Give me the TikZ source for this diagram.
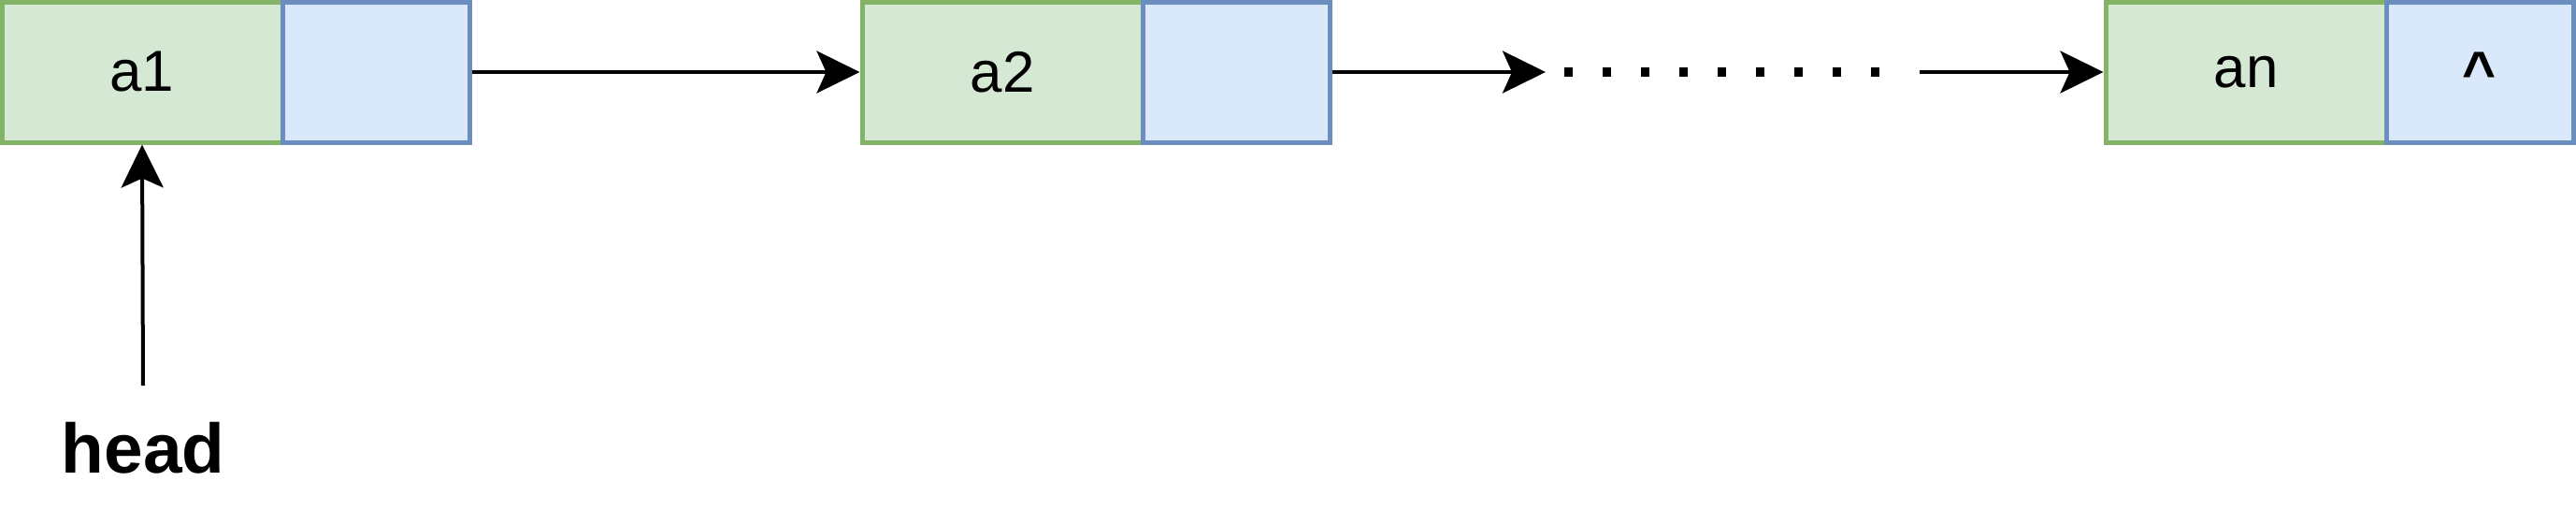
\documentclass[tikz,border=0pt]{standalone}
\usepackage{fontspec}
\setmainfont{Liberation Sans}
\usepackage{xcolor}
\usetikzlibrary{arrows.meta}
\definecolor{datfill}{HTML}{D5E8D4}
\definecolor{datline}{HTML}{82B366}
\definecolor{ptrfill}{HTML}{DAE8FC}
\definecolor{ptrline}{HTML}{6C8EBF}

\begin{document}
\begin{tikzpicture}[
    datbox/.style={draw=datline, fill=datfill, line width=0.05cm, minimum width=3cm, minimum height=1.5cm, inner sep=0pt, font=\fontsize{17.6}{20}\selectfont},
    ptrbox/.style={draw=ptrline, fill=ptrfill, line width=0.05cm, minimum width=2cm, minimum height=1.5cm, inner sep=0pt, font=\fontsize{17.6}{20}\selectfont\bfseries},
    link/.style={line width=0.04cm, -{Stealth[length=0.46cm,width=0.45cm,inset=0.1cm]}}]
    \useasboundingbox (0,0) rectangle (27.55,-5.6);
    \node [datbox] (a1) at (1.52,-0.77) {a1};
    \node [ptrbox] (p1) at (4.02,-0.77) {};
    \node [datbox] (a2) at (10.72,-0.77) {a2};
    \node [ptrbox] (p2) at (13.22,-0.77) {};
    \node [datbox] (an) at (24.02,-0.77) {an};
    \node [ptrbox] (pn) at (26.52,-0.77) {\textasciicircum};
    \coordinate (gapin) at (16.53,-0.77);
    \coordinate (gapout) at (20.53,-0.77);
    \draw [link] (p1.east) -- (a2.west);
    \draw [link] (p2.east) -- (gapin);
    \draw [line width=0.1cm, dash pattern=on 0.09cm off 0.32cm] (16.73,-0.77) -- (20.10,-0.77);
    \draw [link] (gapout) -- (an.west);
    \node [anchor=base, font=\fontsize{21.3}{24}\selectfont\bfseries] (head) at (1.53,-5.05) {head};
    \coordinate (headtop) at (1.53,-4.12);
    \draw [link] (headtop) -- (a1.south);
\end{tikzpicture}
\end{document}
